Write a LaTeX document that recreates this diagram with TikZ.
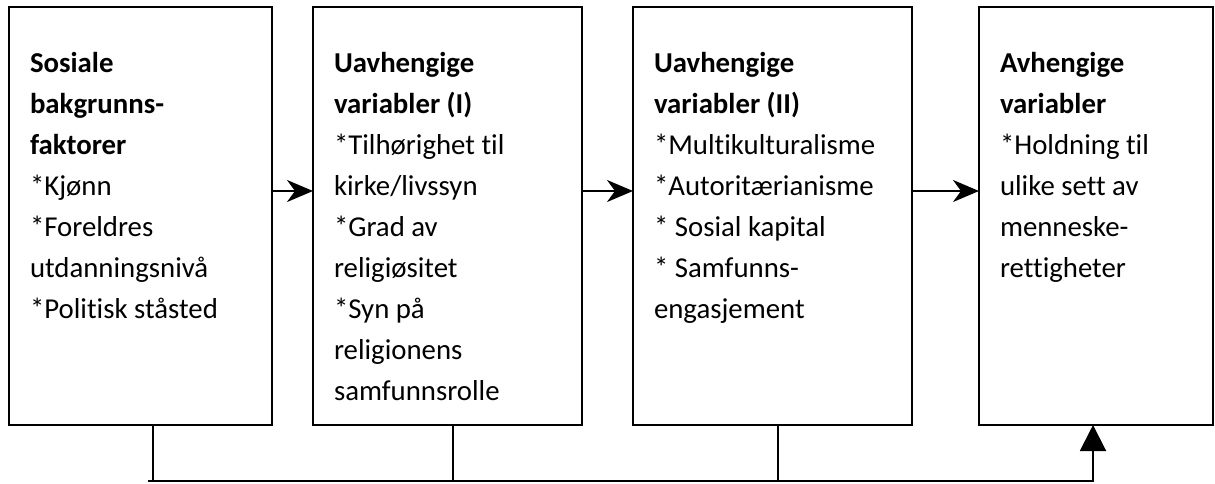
\documentclass[tikz,border=0pt]{standalone}
\usepackage{fontspec}
\setmainfont{Carlito}[Ligatures={NoCommon}]
\usetikzlibrary{arrows.meta,positioning}

\begin{document}
\begin{tikzpicture}[x=0.5pt,y=-0.5pt,line width=1pt,
    box/.style={draw,rectangle,inner sep=0pt,outer sep=0pt,minimum height=209pt},
    txt/.style={anchor=base west,align=left,inner sep=0pt,font=\fontsize{14.4}{20.5}\selectfont},
    arr/.style={-{Stealth[length=13pt,width=11pt,inset=4pt]}},
    up/.style={-{Triangle[length=13pt,width=13pt]}}]
    \useasboundingbox (0,0) rectangle (1215,483);
    % boxes
    \node[box,minimum width=131.5pt] (soc) at (140.5,216) {};
    \node[box,minimum width=134.5pt] (un1) at (447.5,216) {};
    \node[box,minimum width=139.5pt] (un2) at (772.5,216) {};
    \node[box,minimum width=117pt] (av) at (1096,216) {};
    % texts (anchored on the baseline of their last line)
    \node[txt] (socT) at (29,318) {\textbf{Sosiale}\\ \textbf{bakgrunns-}\\ \textbf{faktorer}\\ *Kjønn\\ *Foreldres\\ utdanningsnivå\\ *Politisk ståsted};
    \node[txt] (un1T) at (333,400) {\textbf{Uavhengige}\\ \textbf{variabler (I)}\\ *Tilhørighet til\\ kirke/livssyn\\ *Grad av\\ religiøsitet\\ *Syn på\\ religionens\\ samfunnsrolle};
    \node[txt] (un2T) at (653,318) {\textbf{Uavhengige}\\ \textbf{variabler (II)}\\ *Multikulturalisme\\ *Autoritærianisme\\ * Sosial kapital\\ * Samfunns-\\ engasjement};
    \node[txt] (avT) at (999,277) {\textbf{Avhengige}\\ \textbf{variabler}\\ *Holdning til\\ ulike sett av\\ menneske-\\ rettigheter};
    % arrows
    \draw[arr] ([yshift=12.5pt]soc.east) -- ([yshift=12.5pt]soc.east -| un1.west);
    \draw[arr] ([yshift=12.5pt]un1.east) -- ([yshift=12.5pt]un1.east -| un2.west);
    \draw[arr] ([yshift=12.5pt]un2.east) -- ([yshift=12.5pt]un2.east -| av.west);
    % bottom line
    \coordinate (bus) at (148,481);
    \coordinate (d1) at (153,481);
    \coordinate (d2) at (453,481);
    \coordinate (d3) at (778,481);
    \coordinate (d4) at (1093,481);
    \draw (soc.south -| d1) -- (d1);
    \draw (un1.south -| d2) -- (d2);
    \draw (un2.south -| d3) -- (d3);
    \draw[up] (bus) -- (d4) -- (av.south -| d4);
\end{tikzpicture}
\end{document}
